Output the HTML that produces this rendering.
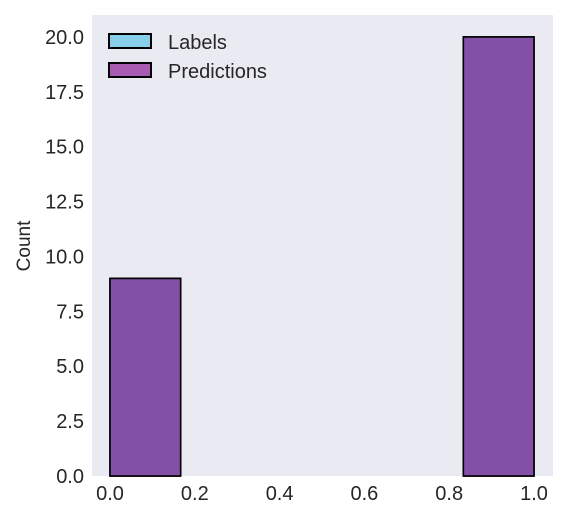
<!DOCTYPE html>
<html><head><meta charset="utf-8"><style>
body{margin:0;background:#fff;width:570px;height:518px;overflow:hidden}
text{font-family:"Liberation Sans",sans-serif;fill:#262626}
</style></head><body>
<svg id="chart" width="570" height="518" xmlns="http://www.w3.org/2000/svg">
<rect x="92" y="15" width="461" height="461" fill="#eaeaf2"/>
<g id="bars"></g>
<g id="ticks"></g>
<text transform="translate(30,246) rotate(-90)" text-anchor="middle" font-size="19">Count</text>
<g>
<rect x="109" y="34" width="42" height="14" fill="#87ceeb" stroke="#000" stroke-width="2"/>
<text x="168" y="49" font-size="20">Labels</text>
<rect x="109" y="63" width="42" height="14" fill="#a85bb0" stroke="#000" stroke-width="2"/>
<text x="168" y="78" font-size="20">Predictions</text>
</g>
</svg>
<script>
const binEdges=[0,1/6,2/6,3/6,4/6,5/6,1];
const labelCounts=[9,0,0,0,0,20];
const predCounts=[9,0,0,0,0,20];
const xTicks=[0,0.2,0.4,0.6,0.8,1.0];
const yTicks=[0,2.5,5,7.5,10,12.5,15,17.5,20];
const NS="http://www.w3.org/2000/svg";
const X=v=>110+v*424;
const Y=v=>476-v*(461/21);
const bars=document.getElementById('bars');
function drawSeries(counts,fill,name){
  counts.forEach((c,i)=>{
    if(c<=0)return;
    const r=document.createElementNS(NS,'rect');
    r.setAttribute('x',X(binEdges[i]));r.setAttribute('width',X(binEdges[i+1])-X(binEdges[i]));
    r.setAttribute('y',Y(c));r.setAttribute('height',Y(0)-Y(c));
    r.setAttribute('fill',fill);r.setAttribute('stroke','#000');r.setAttribute('stroke-width','1.6');
    
    
    bars.appendChild(r);
  });
}
drawSeries(labelCounts,'#87ceeb','labels');
drawSeries(predCounts,'#8350a8','predictions');
const tg=document.getElementById('ticks');
xTicks.forEach(t=>{
  const e=document.createElementNS(NS,'text');
  e.setAttribute('x',X(t));e.setAttribute('y',500);e.setAttribute('text-anchor','middle');e.setAttribute('font-size','20');
  e.textContent=t.toFixed(1);
  
  
  tg.appendChild(e);
});
yTicks.forEach(t=>{
  const e=document.createElementNS(NS,'text');
  e.setAttribute('x',84);e.setAttribute('y',Y(t)+7);e.setAttribute('text-anchor','end');e.setAttribute('font-size','20');
  e.textContent=t.toFixed(1);
  
  
  tg.appendChild(e);
});
</script>
</body></html>
